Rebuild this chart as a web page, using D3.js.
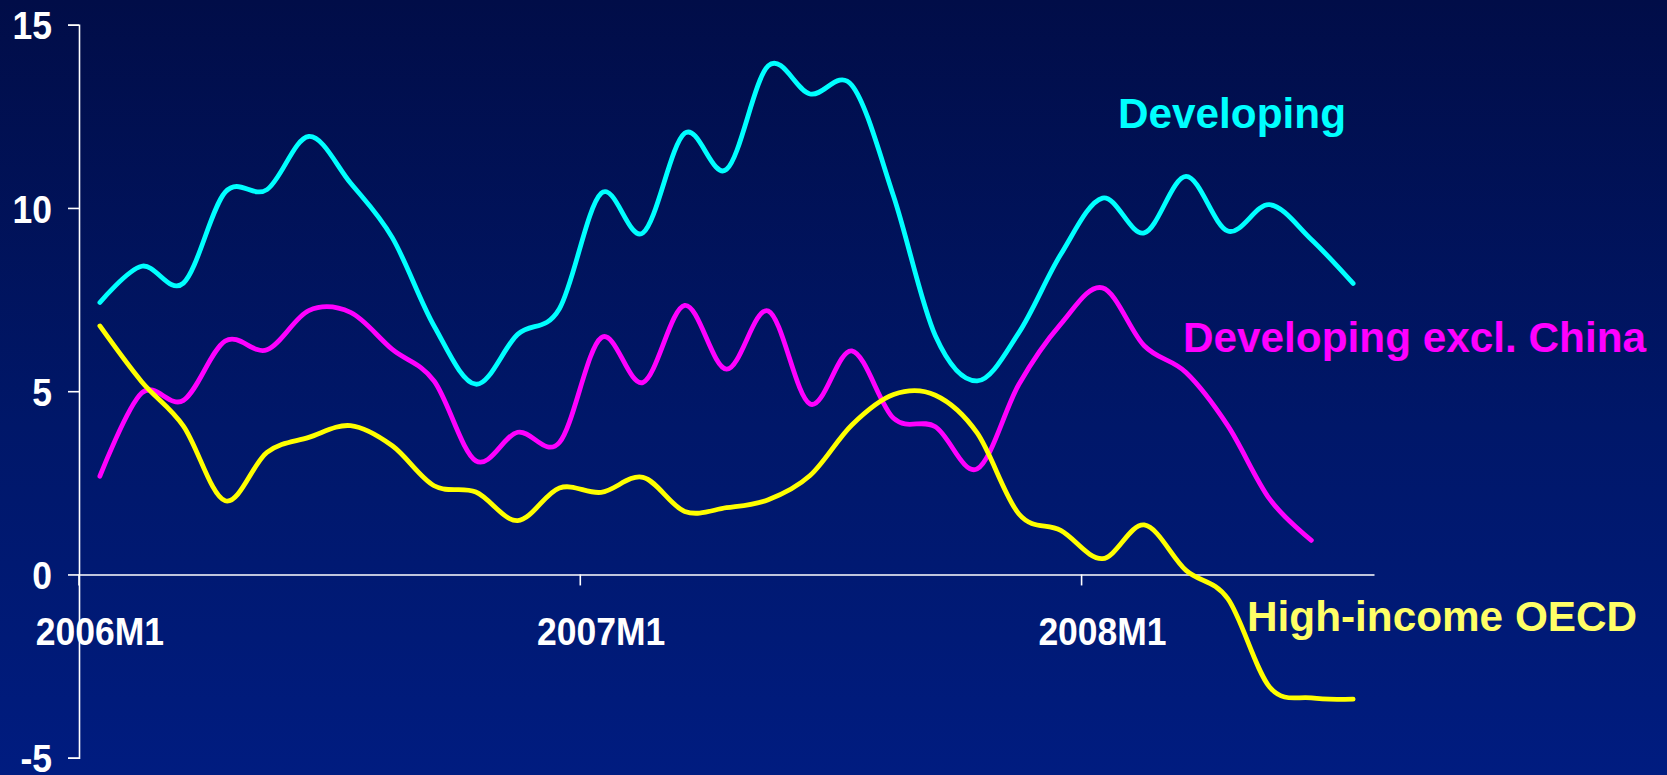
<!DOCTYPE html>
<html>
<head>
<meta charset="utf-8">
<script src="https://cdn.jsdelivr.net/npm/d3@7"></script>
<style>
  html, body { margin: 0; padding: 0; background: #01124f; }
  svg { display: block; }
  text { font-family: "Liberation Sans", Arial, sans-serif; font-weight: bold; }
</style>
</head>
<body>
<svg id="chart" width="1667" height="775"></svg>
<script>
// Monthly categories, 2006M1 .. 2008M7
const months = [
  "2006M1","2006M2","2006M3","2006M4","2006M5","2006M6","2006M7","2006M8","2006M9","2006M10","2006M11","2006M12",
  "2007M1","2007M2","2007M3","2007M4","2007M5","2007M6","2007M7","2007M8","2007M9","2007M10","2007M11","2007M12",
  "2008M1","2008M2","2008M3","2008M4","2008M5","2008M6","2008M7"
];
const xTickLabels = ["2006M1", "2007M1", "2008M1"];
const yTickValues = [-5, 0, 5, 10, 15];

// Growth rates, percent
const developing = [7.42, 8.41, 7.95, 10.43, 10.5, 11.95, 10.68, 9.19, 6.78, 5.19, 6.55, 7.25,
  10.4, 9.32, 12.04, 11.05, 13.88, 13.11, 13.35, 10.32, 6.51, 5.28, 6.6, 8.73,
  10.27, 9.32, 10.86, 9.37, 10.09, 9.14, 7.94];
const developingExChina = [2.68, 4.95, 4.75, 6.37, 6.13, 7.2, 7.15, 6.14, 5.28, 3.1, 3.88, 3.6,
  6.46, 5.24, 7.34, 5.6, 7.19, 4.65, 6.1, 4.26, 4.03, 2.88, 5.19, 6.83,
  7.82, 6.24, 5.51, 4.06, 2.06, 0.93];
const highIncomeOECD = [6.78, 5.26, 4.05, 2.01, 3.33, 3.74, 4.06, 3.51, 2.42, 2.25, 1.47, 2.36,
  2.24, 2.65, 1.72, 1.82, 2.04, 2.7, 4.08, 4.91, 4.89, 3.86, 1.65, 1.2,
  0.43, 1.35, 0.11, -0.66, -3.07, -3.37, -3.4];

const seriesNames = ["Developing", "Developing excl. China", "High-income OECD"];
const seriesValues = [developing, developingExChina, highIncomeOECD];
const lineColors = ["#00ffff", "#ff00ff", "#ffff00"];
const labelColors = ["#00ffff", "#ff00ff", "#ffff66"];

const W = 1667, H = 775;
const plot = { left: 79, right: 1374, top: 24.7, bottom: 757.7 };
const axisFont = 39, axisSquash = 0.91;

const svg = d3.select("#chart");

// Background: dark navy fading to royal blue
const defs = svg.append("defs");
const grad = defs.append("linearGradient")
  .attr("id", "bg").attr("x1", 0).attr("y1", 0).attr("x2", 0).attr("y2", 1);
grad.append("stop").attr("offset", "0%").attr("stop-color", "#010d48");
grad.append("stop").attr("offset", "55%").attr("stop-color", "#001769");
grad.append("stop").attr("offset", "100%").attr("stop-color", "#001c80");
svg.append("rect").attr("width", W).attr("height", H).attr("fill", "url(#bg)");

// Scales: one band per month
const x = d3.scaleBand().domain(months).range([plot.left, plot.right]).padding(0);
const y = d3.scaleLinear().domain([-5, 15]).range([plot.bottom, plot.top]);
const cx = m => x(m) + x.bandwidth() / 2;

// Y axis
const yAxis = svg.append("g")
  .attr("transform", `translate(${plot.left},0)`)
  .call(d3.axisLeft(y).tickValues(yTickValues).tickSize(11).tickSizeOuter(11).tickPadding(16)
    .tickFormat(d => String(d)));
yAxis.selectAll("path, line").attr("stroke", "#ffffff").attr("stroke-width", 1.6);
yAxis.selectAll("text")
  .attr("fill", "#ffffff")
  .style("font-size", axisFont + "px")
  .attr("dy", "0.36em")
  .attr("x", -27 / axisSquash)
  .attr("transform", `scale(${axisSquash},1)`);

// X axis along zero, tick marks on month boundaries, labels centred in the band
const xAxis = svg.append("g")
  .attr("transform", `translate(0,${y(0)})`)
  .call(d3.axisBottom(x).tickValues(xTickLabels).tickSize(11).tickSizeOuter(0));
xAxis.selectAll("path").attr("stroke", "#ffffff").attr("stroke-width", 1.6);
xAxis.selectAll(".tick").attr("transform", d => `translate(${x(d)},0)`);
xAxis.selectAll(".tick line").attr("stroke", "#ffffff").attr("stroke-width", 1.6);
xAxis.selectAll(".tick text")
  .attr("x", (x.bandwidth() / 2) / axisSquash)
  .attr("y", 71)
  .attr("dy", 0)
  .attr("transform", `scale(${axisSquash},1)`)
  .attr("fill", "#ffffff")
  .style("font-size", axisFont + "px");

svg.selectAll(".domain").attr("fill", "none");

// Series lines, smoothed through the monthly points
const line = d3.line()
  .x((d, i) => cx(months[i]))
  .y(d => y(d))
  .curve(d3.curveCardinal.tension(0));

svg.append("g").selectAll("path.series")
  .data(seriesValues)
  .join("path")
  .attr("class", "series")
  .attr("d", d => line(d))
  .attr("fill", "none")
  .attr("stroke", (d, i) => lineColors[i])
  .attr("stroke-width", 4.8)
  .attr("stroke-linecap", "round")
  .attr("stroke-linejoin", "round");

// Series labels
const labelPos = [
  { x: 1118, y: 128 },
  { x: 1183, y: 352 },
  { x: 1247, y: 631 }
];
svg.append("g").selectAll("text")
  .data(seriesNames)
  .join("text")
  .attr("x", (d, i) => labelPos[i].x)
  .attr("y", (d, i) => labelPos[i].y)
  .attr("fill", (d, i) => labelColors[i])
  .style("font-size", "42.3px")
  .text(d => d);
</script>
</body>
</html>
